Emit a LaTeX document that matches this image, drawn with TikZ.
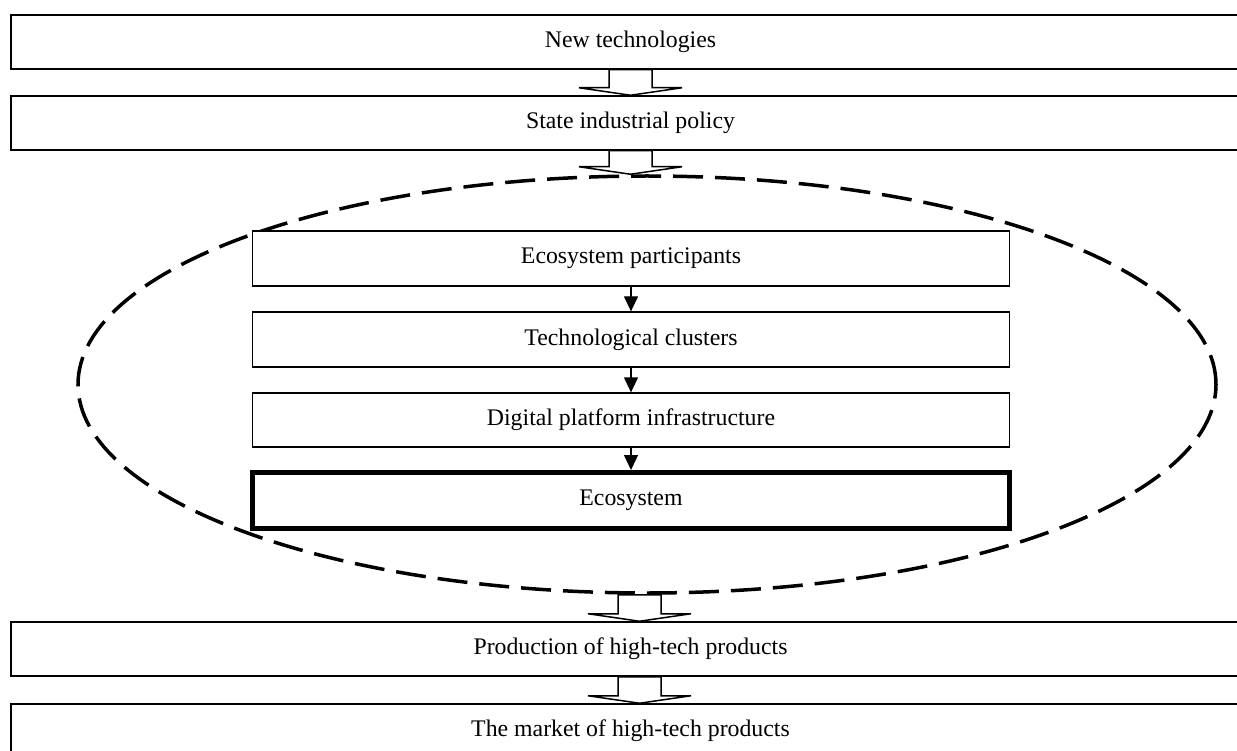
\documentclass[tikz,border=0pt]{standalone}
\usepackage{fontspec}
\setmainfont{Liberation Serif}
\usetikzlibrary{arrows.meta,calc,shapes.geometric}
\tikzset{
  wide/.style={draw, line width=1.5pt, minimum width=1239pt, minimum height=54pt, inner sep=0pt, font=\fontsize{23.8}{28}\selectfont, fill=white},
  inner/.style={draw, line width=1.3pt, minimum width=757pt, minimum height=55pt, inner sep=0pt, font=\fontsize{23.8}{28}\selectfont, fill=white},
  ecobox/.style={inner, line width=5pt},
  blk/.style={draw, line width=1.5pt, fill=white, line join=miter},
  smallarr/.style={line width=1.3pt, -{Triangle[length=15pt,width=14pt]}},
  region/.style={draw, ellipse, dash pattern=on 30pt off 12pt, line width=3.5pt, minimum width=1138pt, minimum height=417pt, inner sep=0pt}
}
\newcommand{\blockarr}[2]{%
  \draw[blk] ($(#1)+(-21.5,0)$) -- ($(#2)+(-21.5,-7.5)$) -- ($(#2)+(-51.5,-7.5)$) -- (#2)
    -- ($(#2)+(51.5,-7.5)$) -- ($(#2)+(21.5,-7.5)$) -- ($(#1)+(21.5,0)$) -- cycle;}
\begin{document}
\begin{tikzpicture}[x=1pt,y=-1pt]
\useasboundingbox (0,0) rectangle (1237,751);
\clip (0,0) rectangle (1237,751);
\fill[white] (0,0) rectangle (1237,751);
% ellipse region
\node[region] (el) at (647,384.5) {};
% outer boxes
\node[wide] (nt) at (630.5,42) {New technologies};
\node[wide] (sp) at (630.5,123) {State industrial policy};
\node[wide] (ph) at (630.5,649) {Production of high-tech products};
\node[wide] (mk) at (630.5,731) {The market of high-tech products};
% inner boxes
\node[inner] (ep) at (631,258.5) {Ecosystem participants};
\node[inner] (tc) at (631,339.5) {Technological clusters};
\node[inner, minimum height=54pt] (dp) at (631,420) {Digital platform infrastructure};
\node[ecobox, minimum height=56pt] (eco) at (631,500.5) {Ecosystem};
% block arrows
\blockarr{nt.south}{sp.north}
\coordinate (elTop) at ($(el.north)+(-16.5,0)$);
\blockarr{sp.south}{elTop}
\coordinate (elBot) at ($(el.south)+(-7.5,0)$);
\coordinate (phTop) at ($(ph.north)+(9,0)$);
\blockarr{elBot}{phTop}
\coordinate (phBot) at ($(ph.south)+(9,0)$);
\coordinate (mkTop) at ($(mk.north)+(9,0)$);
\blockarr{phBot}{mkTop}
% small arrows
\draw[smallarr] (ep.south) -- (tc.north);
\draw[smallarr] (tc.south) -- (dp.north);
\draw[smallarr] (dp.south) -- (eco.north);
\end{tikzpicture}
\end{document}
